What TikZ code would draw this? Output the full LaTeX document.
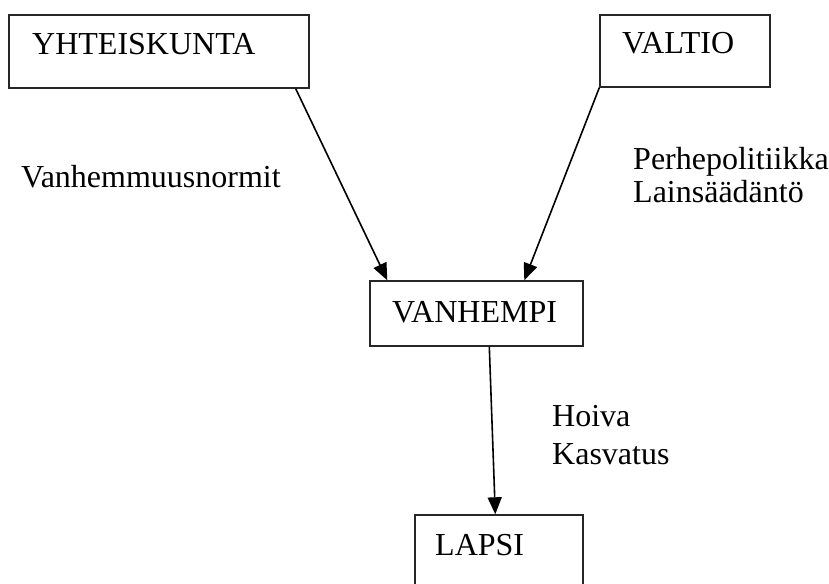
\documentclass[tikz,border=0pt]{standalone}
\usepackage{fontspec}
\setmainfont{Liberation Serif}
\usetikzlibrary{arrows.meta,calc}
\begin{document}
\begin{tikzpicture}[x=1pt,y=-1pt,
  box/.style={draw=black!85, line width=1.4pt, rectangle, inner sep=0pt},
  txt/.style={inner sep=0pt, anchor=base west, font=\fontsize{32}{33}\selectfont},
  conn/.style={line width=1.6pt, -{Triangle[length=17pt,width=14pt]}}]
\useasboundingbox (0,0) rectangle (829,583);
\clip (0,0) rectangle (829,583);
% boxes
\node[box, minimum width=300pt, minimum height=73pt] (yht) at (159,51.5) {};
\node[box, minimum width=170pt, minimum height=72pt] (val) at (685,51) {};
\node[box, minimum width=213pt, minimum height=65pt] (van) at (476.5,313.5) {};
\node[box, minimum width=168pt, minimum height=100pt] (lap) at (499,565) {};
% box texts
\node[txt] (tyht) at (32,55) {YHTEISKUNTA};
\node[txt] (tval) at (622,54) {VALTIO};
\node[txt] (tvan) at (392,322) {VANHEMPI};
\node[txt] (tlap) at (435,555) {LAPSI};
% labels
\node[txt] (lnorm) at (21,187) {Vanhemmuusnormit};
\node[txt] (lper) at (633,169) {\begin{tabular}[t]{@{}l@{}}Perhepolitiikka\\Lainsäädäntö\end{tabular}};
\node[txt] (lhoi) at (552,426) {\begin{tabular}[t]{@{}l@{}}Hoiva\\[5pt]Kasvatus\end{tabular}};
% connectors
\draw[conn] ($(yht.south east)+(-14,0)$) -- ($(van.north west)+(18,0)$);
\draw[conn] (val.south west) -- ($(van.north west)+(155,0)$);
\draw[conn] ($(van.south west)+(120,0)$) -- ($(lap.north west)+(81,0)$);
\end{tikzpicture}
\end{document}
